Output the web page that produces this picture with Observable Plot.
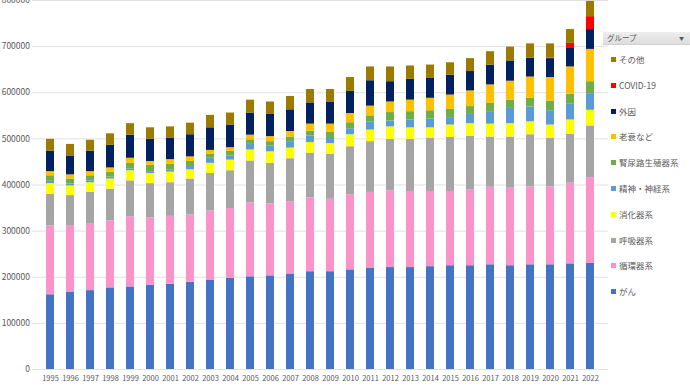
<!DOCTYPE html>
<html>
<head>
<meta charset="utf-8">
<script src="https://cdn.jsdelivr.net/npm/d3@7"></script>
<script src="https://cdn.jsdelivr.net/npm/@observablehq/plot@0.6"></script>
<style>
  html, body { margin: 0; padding: 0; background: #fff; }
  #wrap { position: relative; width: 690px; height: 388px; overflow: hidden; font-family: "Noto Sans CJK JP", "Noto Sans", sans-serif; }
  #legend { position: absolute; left: 603px; top: 32px; width: 87px; }
  #legend .hdr { height: 12px; background: linear-gradient(#eeeeee, #dddddd); border-bottom: 1px solid #d0d0d0; font-size: 7.5px; color: #555; line-height: 12px; padding-left: 4px; position: relative; }
  #legend .hdr span.arr { position: absolute; right: 6px; top: 0; font-size: 5px; color: #555; }
  #legend .item { position: absolute; left: 8px; font-size: 8.5px; color: #595959; white-space: nowrap; line-height: 10px; }
  #legend .sw { display: inline-block; width: 5px; height: 5px; margin-right: 3px; vertical-align: 1px; }
</style>
</head>
<body>
<div id="wrap"></div>
<script>
const years = ["1995","1996","1997","1998","1999","2000","2001","2002","2003","2004","2005","2006","2007","2008","2009","2010","2011","2012","2013","2014","2015","2016","2017","2018","2019","2020","2021","2022"];
const seriesNames = ["がん","循環器系","呼吸器系","消化器系","精神・神経系","腎尿路生殖器系","老衰など","外因","COVID-19","その他"];
const seriesColors = ["#4472C4","#F993C9","#A5A5A5","#FFFF00","#5B9BD5","#70AD47","#FFC000","#002060","#FF0000","#9C7A00"];

const cancer      = [162000,167000,171000,177000,179000,183000,185000,189000,193000,198000,201000,203000,207000,212000,212000,216000,219000,221000,221000,223000,225000,225000,227000,225000,227000,227000,229000,230000];
const circulatory = [149000,145000,144000,145000,152000,146000,147000,146000,151000,151000,160000,156000,157000,160000,157000,163000,165000,166000,165000,163000,161000,164000,168000,168000,169000,169000,175000,186000];
const respiratory = [69000,65000,69000,69000,78000,74000,73000,78000,81000,82000,91000,88000,93000,97000,98000,104000,110000,112000,113000,115000,117000,117000,109000,111000,113000,105000,106000,112000];
const digestive   = [23000,21000,21000,22000,22000,22000,23000,20000,22000,23000,24000,25000,23000,23000,23000,26000,25000,27000,25000,23000,27000,27000,28000,29000,28000,29000,31000,34000];
const nervous     = [5000,4000,4000,4000,4000,4000,5000,7000,11000,9000,12000,13000,14000,14000,13000,13000,18000,13000,17000,19000,16000,20000,27000,33000,32000,31000,34000,36000];
const urogenital  = [12000,11000,11000,11000,12000,14000,12000,11000,9000,10000,10000,9000,10000,11000,12000,13000,13000,18000,18000,18000,18000,17000,18000,18000,19000,21000,22000,26000];
const senility    = [9000,9000,9000,9000,11000,8000,10000,10000,8000,8000,10000,11000,12000,15000,17000,20000,21000,23000,25000,27000,31000,34000,40000,41000,46000,51000,59000,70000];
const external    = [44000,41000,44000,49000,50000,48000,46000,48000,49000,49000,48000,48000,47000,46000,47000,48000,55000,44000,45000,43000,43000,42000,43000,44000,41000,41000,40000,43000];
const covid       = [0,0,0,0,0,0,0,0,0,0,0,0,0,0,0,0,0,0,0,0,0,0,0,0,0,1000,11000,28000];
const other       = [26000,25000,24000,25000,25000,25000,25000,25000,27000,26000,28000,27000,29000,29000,28000,30000,30000,32000,29000,29000,27000,28000,29000,30000,31000,31000,30000,33000];
const yTicks = [0,100000,200000,300000,400000,500000,600000,700000,800000];

const seriesValues = [cancer, circulatory, respiratory, digestive, nervous, urogenital, senility, external, covid, other];
const rows = [];
seriesNames.forEach((name, si) => {
  years.forEach((yr, i) => rows.push({year: yr, group: name, value: seriesValues[si][i]}));
});

const chart = Plot.plot({
  width: 690,
  height: 388,
  marginLeft: 31.5,
  marginRight: 82,
  marginTop: 0,
  marginBottom: 19,
  style: {fontFamily: "'Noto Sans CJK JP', 'Noto Sans', sans-serif", background: "#fff", overflow: "visible"},
  x: {domain: years, padding: 0.584, label: null, tickSize: 0, tickPadding: 6},
  y: {domain: [0, 800000], ticks: yTicks, label: null, tickSize: 0, tickPadding: 8, tickFormat: d => String(d)},
  color: {domain: seriesNames, range: seriesColors},
  marks: [
    Plot.gridY(yTicks, {stroke: "#e1e1e1", strokeOpacity: 1, strokeWidth: 1}),
    Plot.barY(rows, {x: "year", y: "value", fill: "group", order: seriesNames}),
    Plot.axisY({ticks: yTicks, tickSize: 0, tickPadding: 2, tickFormat: d => String(d), fontSize: 8.5, fill: "#595959", label: null}),
    Plot.axisX({tickSize: 0, tickPadding: 6, fontSize: 7.5, fill: "#595959", label: null})
  ]
});
const wrap = document.getElementById("wrap");
wrap.appendChild(chart);

// legend (HTML) — listed top to bottom in reverse stacking order
const legend = document.createElement("div");
legend.id = "legend";
const hdr = document.createElement("div");
hdr.className = "hdr";
hdr.innerHTML = "グループ<span class='arr'>▼</span>";
legend.appendChild(hdr);
const legendOrder = seriesNames.slice().reverse();
legendOrder.forEach((name, i) => {
  const it = document.createElement("div");
  it.className = "item";
  it.style.top = (22 + i * 25.8) + "px";
  const sw = document.createElement("span");
  sw.className = "sw";
  sw.style.background = seriesColors[seriesNames.indexOf(name)];
  it.appendChild(sw);
  it.appendChild(document.createTextNode(name));
  legend.appendChild(it);
});
wrap.appendChild(legend);
</script>
</body>
</html>
